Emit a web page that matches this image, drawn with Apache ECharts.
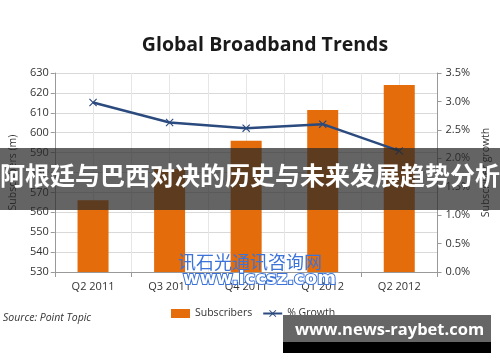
<!DOCTYPE html>
<html>
<head>
<meta charset="utf-8">
<script src="https://cdn.jsdelivr.net/npm/echarts@6/dist/echarts.min.js"></script>
<style>
  html, body { margin: 0; padding: 0; background: #fff; }
  #main { width: 500px; height: 362px; }
</style>
</head>
<body>
<div id="main"></div>
<script>
// 季度
const quarters = ["Q2 2011", "Q3 2011", "Q4 2011", "Q1 2012", "Q2 2012"];
// 用户数（百万）
const subscribers = [566, 581.8, 596, 611.4, 624];
// 增长率 %
const growth = [2.98, 2.63, 2.53, 2.6, 2.13];
const leftTicks = [530, 630, 10];
const rightTicks = [0, 3.5, 0.5];

const font = "'Open Sans', 'Liberation Sans', sans-serif";
const myChart = echarts.init(document.getElementById("main"));

const option = {
  animation: false,
  title: {
    text: "Global Broadband Trends",
    left: 260,
    top: 30,
    textAlign: "center",
    textStyle: { fontFamily: font, fontSize: 19.5, fontWeight: "bold", color: "#1a1a1a" },
  },
  grid: { left: 50, right: 57, top: 73, bottom: 90 },
  legend: {
    left: 166,
    top: 303,
    itemWidth: 19,
    itemHeight: 9,
    itemGap: 10,
    textStyle: { fontFamily: font, fontSize: 10.5, color: "#333" },
    data: [
      { name: "Subscribers", icon: "rect" },
      { name: "% Growth" },
    ],
  },
  xAxis: [
    {
      type: "category",
      data: quarters,
      axisLine: { lineStyle: { color: "#999" } },
      axisTick: { show: true, alignWithLabel: false, lineStyle: { color: "#999" } },
      axisLabel: { fontFamily: font, fontSize: 11, color: "#333", margin: 9 },
      splitLine: { show: false },
    },
    {
      // 背景竖线
      type: "value",
      min: 0,
      max: 10,
      interval: 1,
      position: "bottom",
      show: true,
      axisLine: { show: false },
      axisTick: { show: false },
      axisLabel: { show: false },
      splitLine: { show: true, lineStyle: { color: "#e6e6e6", width: 1 } },
    },
  ],
  yAxis: [
    {
      type: "value",
      min: leftTicks[0],
      max: leftTicks[1],
      interval: leftTicks[2],
      name: "Subscribers (m)",
      nameLocation: "middle",
      nameRotate: 90,
      nameGap: 34,
      nameTextStyle: { fontFamily: font, fontSize: 10.5, color: "#333" },
      axisLine: { show: true, lineStyle: { color: "#999" } },
      axisTick: { show: true, length: 4, lineStyle: { color: "#999" } },
      axisLabel: { fontFamily: font, fontSize: 11, color: "#333", margin: 6 },
      splitLine: { show: true, lineStyle: { color: "#d9d9d9", width: 1 } },
    },
    {
      type: "value",
      min: rightTicks[0],
      max: rightTicks[1],
      interval: rightTicks[2],
      name: "Subscriber growth",
      nameLocation: "middle",
      nameRotate: 90,
      nameGap: 36,
      nameTextStyle: { fontFamily: font, fontSize: 10.5, color: "#333" },
      axisLine: { show: true, lineStyle: { color: "#999" } },
      axisTick: { show: true, length: 4, lineStyle: { color: "#999" } },
      axisLabel: {
        fontFamily: font,
        fontSize: 11,
        color: "#333",
        margin: 8,
        formatter: (v) => v.toFixed(1) + "%",
      },
      splitLine: { show: false },
    },
  ],
  series: [
    {
      name: "Subscribers",
      type: "bar",
      xAxisIndex: 0,
      yAxisIndex: 0,
      barWidth: 31,
      data: subscribers,
      itemStyle: { color: "#e46c0a" },
    },
    {
      name: "% Growth",
      type: "line",
      xAxisIndex: 0,
      yAxisIndex: 1,
      data: growth,
      symbol: "path://M0,1L1,0L5,4L9,0L10,1L6,5L10,9L9,10L5,6L1,10L0,9L4,5Z",
      symbolSize: 8,
      lineStyle: { color: "#2b4a7e", width: 2.5 },
      itemStyle: { color: "#2b4a7e" },
    },
  ],
  graphic: [
    {
      type: "text",
      left: 3,
      top: 313,
      style: {
        text: "Source: Point Topic",
        fontFamily: font,
        fontStyle: "italic",
        fontSize: 10.5,
        fill: "#333",
      },
    },
    // 水印
    {
      type: "text",
      left: "center",
      top: 253,
      z: 50,
      style: {
        text: "讯石光通讯咨询网",
        fontFamily: "'Noto Sans CJK SC'",
        fontSize: 18,
        fill: "#3b73d9",
      },
    },
    {
      type: "text",
      left: 182,
      top: 269,
      z: 50,
      style: {
        text: "www.iccsz.com",
        fontFamily: "'DejaVu Sans'",
        fontWeight: "bold",
        fontSize: 18,
        fill: "#ffffff",
        stroke: "#3b73d9",
        lineWidth: 2,
      },
    },
    // 横幅
    {
      type: "rect",
      z: 100,
      shape: { x: 0, y: 148, width: 500, height: 62 },
      style: { fill: "rgba(40,40,40,0.72)" },
    },
    {
      type: "text",
      z: 101,
      left: "center",
      top: 163,
      style: {
        text: "阿根廷与巴西对决的历史与未来发展趋势分析",
        fontFamily: "'Noto Sans CJK SC'",
        fontWeight: "bold",
        fontSize: 25,
        fill: "#ffffff",
      },
    },
    {
      type: "rect",
      z: 100,
      shape: { x: 283, y: 315, width: 208, height: 27 },
      style: { fill: "#666666" },
    },
    {
      type: "rect",
      z: 100,
      shape: { x: 283, y: 342, width: 208, height: 11 },
      style: { fill: "#000000" },
    },
    {
      type: "text",
      z: 101,
      left: 295,
      top: 322,
      style: {
        text: "www.news-raybet.com",
        fontFamily: "'Open Sans'",
        fontWeight: "bold",
        fontSize: 16.5,
        fill: "#ffffff",
      },
    },
  ],
};

myChart.setOption(option);
</script>
</body>
</html>
